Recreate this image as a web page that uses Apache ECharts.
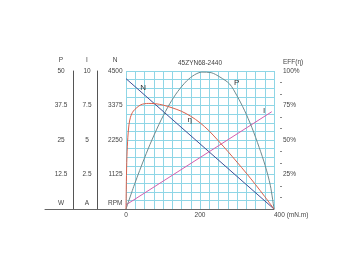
<!DOCTYPE html>
<html><head><meta charset="utf-8">
<script src="https://cdn.jsdelivr.net/npm/echarts@6/dist/echarts.min.js"></script>
<style>html,body{margin:0;padding:0;background:#fff}#c{width:360px;height:270px}</style>
</head><body><div id="c"></div>
<script>
// ---- data ----
const chartTitle = '45ZYN68-2440';
const axisNames = ['P', 'I', 'N', 'EFF(η)'];
const axisUnits = ['W', 'A', 'RPM'];
const xAxisLabels = ['0', '200'];
const xAxisName = '400 (mN.m)';
const curveNames = ['N', 'I', 'P', 'η'];

const speedTorque = [0, 400];
const speedRPM = [4250, 0];

const currentTorque = [0, 394];
const currentA = [0.3, 7.05];

const powerTorque = [0, 24, 50, 70, 95, 119, 140, 164, 185, 205, 230, 254, 280, 300, 320, 340, 360, 376, 390, 400];
const powerW = [0, 9.3, 18.5, 25, 32.3, 38.3, 42.6, 46.4, 48.6, 49.6, 49.4, 47.8, 45.3, 41, 35.8, 29.6, 22.3, 15.8, 8.6, 0];

const effTorque = [0, 1, 2.5, 5, 8, 12, 20, 40, 60, 80, 100, 125, 150, 175, 200, 225, 250, 275, 300, 325, 350, 375, 400];
const effPct = [0, 20, 38, 52, 61, 66.5, 71, 75.5, 76.5, 76.3, 75.3, 73.3, 70.8, 67.2, 62.5, 56.5, 49.3, 41.8, 34, 26, 17.7, 9, 0];

// curve label anchors (data units)
const labelN = [46, 3946];
const labelI = [373, 7.1];
const labelP = [299, 45.7];
const labelEff = [172, 64.5];

// ---- chart ----
const zip = (a, b) => a.map((v, i) => [v, b[i]]);
const cyan = '#8fd6e6';
const txt = '#444';
const font = 'Liberation Sans';
const fs = 6.5;

function curveLabel(coord, text) {
  return {
    symbol: 'circle', symbolSize: 1,
    itemStyle: { color: 'rgba(0,0,0,0)' },
    label: { show: true, position: 'inside', formatter: text, color: '#333', fontSize: 8, fontFamily: font },
    data: [{ coord: coord }]
  };
}

const unitRich = { u: { padding: [0, 0, 12, 0], fontSize: fs, color: txt, fontFamily: font } };

const chart = echarts.init(document.getElementById('c'));
chart.setOption({
  animation: false,
  backgroundColor: '#fff',
  textStyle: { fontFamily: font },
  title: {
    text: chartTitle, left: 178, top: 60, padding: 0,
    textStyle: { fontSize: 6.5, fontWeight: 'normal', color: txt, fontFamily: font }
  },
  grid: [
    { left: 126, top: 71, width: 148, height: 138 },
    { left: 45, top: 71, width: 81, height: 138 }
  ],
  xAxis: [
    {
      gridIndex: 0, type: 'value', min: 0, max: 400, interval: 25,
      axisLine: { show: true, lineStyle: { color: '#666', width: 1 } },
      axisTick: { show: false },
      splitLine: { show: true, lineStyle: { color: cyan, width: 1 } },
      axisLabel: {
        formatter: v => (xAxisLabels.indexOf(String(v)) >= 0 ? String(v) : ''),
        fontSize: fs, color: txt, margin: 3
      },
      name: xAxisName, nameLocation: 'end', nameGap: 0,
      nameTextStyle: { align: 'left', verticalAlign: 'top', padding: [3, 0, 0, 0], fontSize: fs, color: txt }
    },
    {
      gridIndex: 1, type: 'value', min: 0, max: 1,
      axisLine: { show: true, lineStyle: { color: '#666', width: 1 } },
      axisTick: { show: false }, axisLabel: { show: false }, splitLine: { show: false }
    }
  ],
  yAxis: [
    {
      gridIndex: 0, type: 'value', position: 'left', offset: 0, min: 0, max: 4500, interval: 1125,
      axisLine: { show: false }, axisTick: { show: false },
      axisLabel: { fontSize: fs, color: txt, margin: 3.5, rich: unitRich,
        formatter: v => (v === 0 ? '{u|' + axisUnits[2] + '}' : String(v)) },
      splitLine: { show: true, lineStyle: { color: cyan, width: 1 } },
      minorTick: { show: false, splitNumber: 4 },
      minorSplitLine: { show: true, lineStyle: { color: cyan, width: 1 } },
      name: axisNames[2], nameLocation: 'end', nameGap: 7,
      nameTextStyle: { fontSize: fs, color: txt, padding: [0, 22, 0, 0] }
    },
    {
      gridIndex: 0, type: 'value', position: 'left', offset: 29, min: 0, max: 10, interval: 2.5,
      axisLine: { show: true, lineStyle: { color: '#555', width: 1 } }, axisTick: { show: false },
      axisLabel: { fontSize: fs, color: txt, margin: 10, align: 'center', rich: unitRich,
        formatter: v => (v === 0 ? '{u|' + axisUnits[1] + '}' : String(v)) },
      splitLine: { show: false },
      name: axisNames[1], nameLocation: 'end', nameGap: 7,
      nameTextStyle: { fontSize: fs, color: txt, padding: [0, 20, 0, 0] }
    },
    {
      gridIndex: 0, type: 'value', position: 'left', offset: 53, min: 0, max: 50, interval: 12.5,
      axisLine: { show: true, lineStyle: { color: '#555', width: 1 } }, axisTick: { show: false },
      axisLabel: { fontSize: fs, color: txt, margin: 12, align: 'center', rich: unitRich,
        formatter: v => (v === 0 ? '{u|' + axisUnits[0] + '}' : String(v)) },
      splitLine: { show: false },
      name: axisNames[0], nameLocation: 'end', nameGap: 7,
      nameTextStyle: { fontSize: fs, color: txt, padding: [0, 24, 0, 0] }
    },
    {
      gridIndex: 0, type: 'value', position: 'right', offset: 6, min: 0, max: 100, interval: 25,
      axisLine: { show: false }, axisTick: { show: false },
      minorTick: { show: true, splitNumber: 3, length: 2, lineStyle: { color: '#888', width: 1 } },
      axisLabel: { fontSize: fs, color: txt, margin: 3, formatter: v => (v === 0 ? '' : v + '%') },
      splitLine: { show: false },
      name: axisNames[3], nameLocation: 'end', nameGap: 5,
      nameTextStyle: { fontSize: fs, color: txt, align: 'left', padding: [0, 0, 0, 3] }
    },
    { gridIndex: 1, type: 'value', min: 0, max: 1, show: false }
  ],
  series: [
    {
      name: curveNames[0], type: 'line', xAxisIndex: 0, yAxisIndex: 0,
      data: zip(speedTorque, speedRPM), symbol: 'none',
      lineStyle: { color: '#3d4f96', width: 1 },
      markPoint: curveLabel(labelN, curveNames[0])
    },
    {
      name: curveNames[1], type: 'line', xAxisIndex: 0, yAxisIndex: 1,
      data: zip(currentTorque, currentA), symbol: 'none',
      lineStyle: { color: '#d45fae', width: 1 },
      markPoint: curveLabel(labelI, curveNames[1])
    },
    {
      name: curveNames[2], type: 'line', xAxisIndex: 0, yAxisIndex: 2,
      data: zip(powerTorque, powerW), symbol: 'none', smooth: 0.3,
      lineStyle: { color: '#6e8a8e', width: 1 },
      markPoint: curveLabel(labelP, curveNames[2])
    },
    {
      name: curveNames[3], type: 'line', xAxisIndex: 0, yAxisIndex: 3,
      data: zip(effTorque, effPct), symbol: 'none', smooth: 0.3,
      lineStyle: { color: '#d9604c', width: 1 },
      markPoint: curveLabel(labelEff, curveNames[3])
    }
  ]
});
</script>
</body></html>
